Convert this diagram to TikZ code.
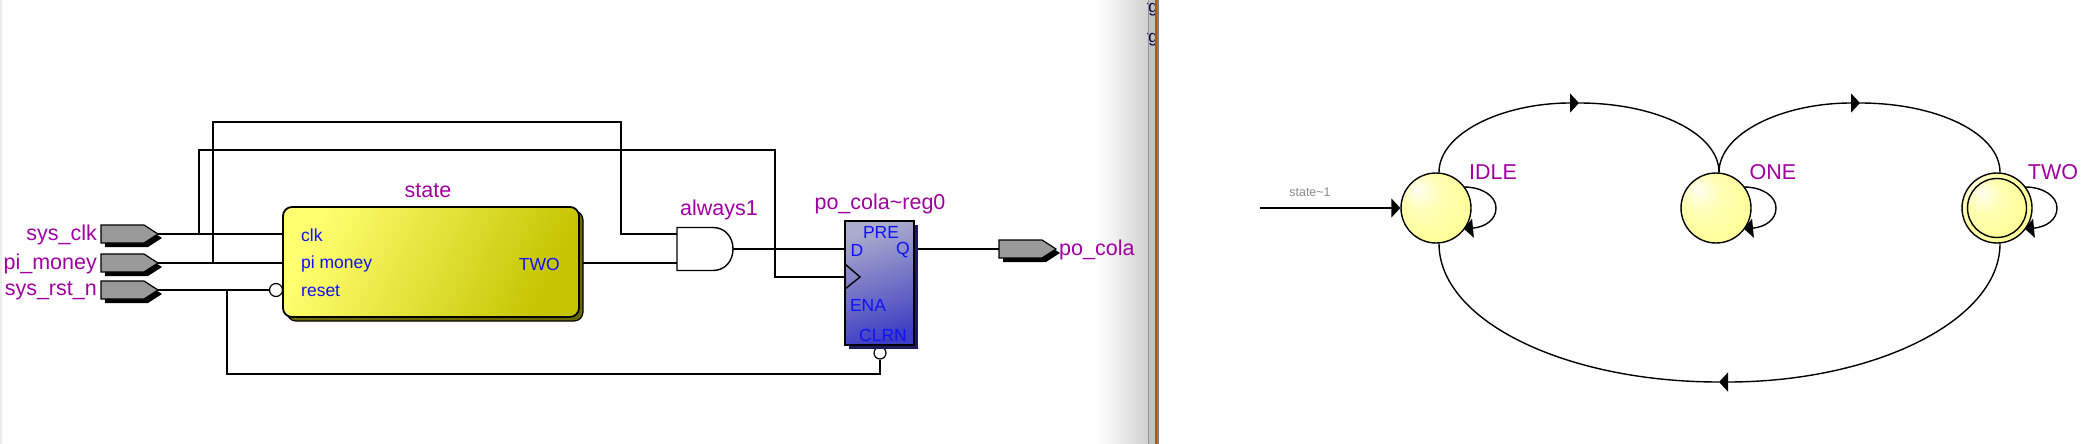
\documentclass[tikz,border=0pt]{standalone}
\usepackage{fontspec}
\setmainfont{Liberation Sans}
\usetikzlibrary{calc,arrows.meta,shapes.geometric}
\definecolor{lbl}{HTML}{A000A0}
\definecolor{pin}{HTML}{1010F8}
\definecolor{portgray}{HTML}{999999}
\definecolor{stlight}{HTML}{FFFF70}
\definecolor{stdark}{HTML}{C4C400}
\definecolor{stshadow}{HTML}{6A6A00}
\definecolor{reglight}{HTML}{ACACCC}
\definecolor{regdark}{HTML}{3E3EC4}
\definecolor{regshadow}{HTML}{1C1C5C}
\definecolor{stcenter}{HTML}{FFFFF4}
\definecolor{stmid}{HTML}{FFFFB4}
\definecolor{stouter}{HTML}{FFFF90}
\pgfdeclareradialshading{statefill}{\pgfpoint{-14bp}{14bp}}{
  color(0bp)=(stcenter); color(14bp)=(stmid); color(36bp)=(stouter); color(50bp)=(stouter)}
\tikzset{
  wire/.style={draw=black,line width=1.6pt},
  headw/.style={line width=1.4pt,-{Triangle[length=9pt,width=19pt]}},
  lab/.style={text=lbl,font=\fontsize{21.5}{24}\selectfont,inner sep=0pt,yshift=-1pt},
  pinl/.style={text=pin,font=\fontsize{17.5}{19}\selectfont,inner sep=0pt,yshift=-1pt},
  statenode/.style={circle,draw=black,line width=1.4pt,minimum size=70pt,inner sep=0pt,shading=statefill},
  bubble/.style={circle,draw=black,fill=white,line width=1.2pt,minimum size=13pt,inner sep=0pt},
  anchorbox/.style={draw=none,inner sep=0pt,outer sep=0pt}
}
\newcommand{\myport}[3]{%
  \fill[black] (#2+4,#3-5) -- (#2+47,#3-5) -- (#2+61,#3+4) -- (#2+47,#3+13) -- (#2+4,#3+13) -- cycle;
  \draw[fill=portgray,line width=1.2pt] (#2,#3-9) -- (#2+43,#3-9) -- (#2+57,#3) -- (#2+43,#3+9) -- (#2,#3+9) -- cycle;
  \coordinate (#1w) at (#2,#3);
  \coordinate (#1e) at (#2+57,#3);
}
\newcommand{\myloop}[1]{%
  \draw[headw] ($(#1)+(28,-21)$) .. controls ($(#1)+(46,-21)$) and ($(#1)+(60,-12)$) .. ($(#1)+(60,0)$)
     .. controls ($(#1)+(60,12)$) and ($(#1)+(49,19)$) .. ($(#1)+(28,21)$);
}
\begin{document}
\begin{tikzpicture}[x=1pt,y=-1pt]
\useasboundingbox (0,-1) rectangle (2093,443);
\fill[white] (0,-1) rectangle (2093,444);
% window chrome
\fill[gray!15] (0,-1) rectangle (2,444);
\shade[left color=white,right color=black!18] (1098,-1) rectangle (1147.5,444);
\fill[black!42] (1147.5,-1) rectangle (1149,444);
\fill[black!24] (1149,-1) rectangle (1155,444);
\begin{scope}
  \clip (1147,-1) rectangle (1155,444);
  \node[text=black!75!blue,font=\fontsize{17}{18}\selectfont,inner sep=0pt,anchor=east] at (1158,9) {rg};
  \node[text=black!75!blue,font=\fontsize{17}{18}\selectfont,inner sep=0pt,anchor=east] at (1158,39) {rg};
\end{scope}
\fill[orange!70!black] (1155,-1) rectangle (1157,444);
\fill[black!50] (1157,-1) rectangle (1159,444);
% ports
\myport{clk}{101}{233}
\myport{mon}{101}{262}
\myport{rst}{101}{289}
\node[lab,anchor=east] (lclk) at (97,233) {sys\_clk};
\node[lab,anchor=east] (lmon) at (97,262) {pi\_money};
\node[lab,anchor=east] (lrst) at (97,289) {sys\_rst\_n};
% state box
\node[bubble] (rb) at (276,289) {};
\fill[stshadow,rounded corners=9pt] (287,210) rectangle (583,320);
\draw[line width=1.2pt,rounded corners=9pt] (287,210) rectangle (583,320);
\node[anchorbox,draw=black,line width=1.8pt,rounded corners=9pt,minimum width=296pt,minimum height=110pt,
  shading=axis,left color=stlight,right color=stdark,shading angle=65] (st) at (431,261) {};
\node[lab] (lst) at (428,189) {state};
\node[pinl,anchor=west] (pclk) at (301,233) {clk};
\node[pinl,anchor=west] (pmon) at (301,262) {pi money};
\node[pinl,anchor=west] (prst) at (301,289) {reset};
\node[pinl,anchor=east] (ptwo) at (560,262) {TWO};
% and gate
\node[anchorbox,minimum width=56pt,minimum height=43pt] (gate) at (705,248) {};
\draw[fill=white,line width=1.4pt] (gate.north west) -- ++(36,0) .. controls ++(12,0) and ($(gate.east)+(0,-12)$) .. (gate.east)
  .. controls ($(gate.east)+(0,12)$) and ($(gate.south west)+(48,0)$) .. ($(gate.south west)+(36,0)$) -- (gate.south west) -- cycle;
\node[lab] (lgate) at (719,208) {always1};
% register
\node[bubble,minimum size=12pt] (cb) at (880,352) {};
\fill[regshadow] (849,224) rectangle (918,348);
\node[anchorbox,draw=black,line width=1.8pt,minimum width=69pt,minimum height=124pt,
  shading=axis,top color=reglight,bottom color=regdark,shading angle=18] (reg) at (879.5,282) {};
\node[lab] (lreg) at (880,202) {po\_cola\textasciitilde reg0};
\node[pinl] (ppre) at (881,230) {PRE};
\node[pinl] (pd) at (857,248) {D};
\node[pinl] (pq) at (903,248) {Q};
\node[pinl] (pena) at (868,303) {ENA};
\node[pinl] (pclrn) at (883,333) {CLRN};
\draw[line width=1.4pt] (845,263) -- (860,276) -- (845,288);
% out port
\myport{out}{999}{248}
\node[lab,anchor=west] (lout) at (1059,248) {po\_cola};
% wires
\coordinate (j1) at (199,233);
\coordinate (j2) at (213,262);
\coordinate (j3) at (227,289);
\coordinate (ga) at ($(gate.west)+(0,-15)$);
\coordinate (gb) at ($(gate.west)+(0,14)$);
\coordinate (regd) at (reg.west |- gate.east);
\coordinate (regc) at (reg.west |- 0,276);
\draw[wire] (clke) -- (st.west |- clke);
\draw[wire] (mone) -- (st.west |- mone);
\draw[wire] (rste) -- (rb.west);
\draw[wire] (j2) -- (213,121) -- (621,121) -- (621,233) -- (ga);
\draw[wire] (j1) -- (199,149) -- (775,149) -- (775,276) -- (regc);
\draw[wire] (j3) -- (227,373) -- (880,373) -- (cb.south);
\draw[wire] (583,262) -- (gb);
\draw[wire] (gate.east) -- (regd);
\draw[wire] (918,248) -- (outw);
% state machine
\node[statenode] (idle) at (1436,207) {};
\node[statenode] (one) at (1716,207) {};
\node[statenode] (two) at (1997,207) {};
\node[statenode,minimum size=59pt] (twoin) at (two) {};
\node[lab] (lidle) at (1493,170) {IDLE};
\node[lab] (lone) at (1773,170) {ONE};
\node[lab] (ltwo) at (2053,170) {TWO};
\node[text=black!45,font=\fontsize{12.5}{14}\selectfont,inner sep=0pt] (lin) at (1310,191) {state\textasciitilde 1};
\coordinate (start) at (1260,207);
\draw[headw] (start) -- (idle.west);
\coordinate (it) at ($(idle.north)+(3,0)$);
\coordinate (ot) at ($(one.north)+(3,0)$);
\coordinate (tt) at ($(two.north)+(3,0)$);
\coordinate (ib) at ($(idle.south)+(3,0)$);
\coordinate (tb) at ($(two.south)+(3,0)$);
\draw[headw] (it) .. controls +(0,-39) and (1502,102) .. (1579,102);
\draw[line width=1.4pt] (1579,102) .. controls (1656,102) and ($(ot)+(0,-39)$) .. (ot);
\draw[headw] (ot) .. controls +(0,-39) and (1782,102) .. (1860,102);
\draw[line width=1.4pt] (1860,102) .. controls (1937,102) and ($(tt)+(0,-39)$) .. (tt);
\draw[headw] (tb) .. controls +(0,77) and (1874,381) .. (1719,381);
\draw[line width=1.4pt] (1719,381) .. controls (1565,381) and ($(ib)+(0,77)$) .. (ib);
\myloop{idle}
\myloop{one}
\myloop{two}
\end{tikzpicture}
\end{document}
